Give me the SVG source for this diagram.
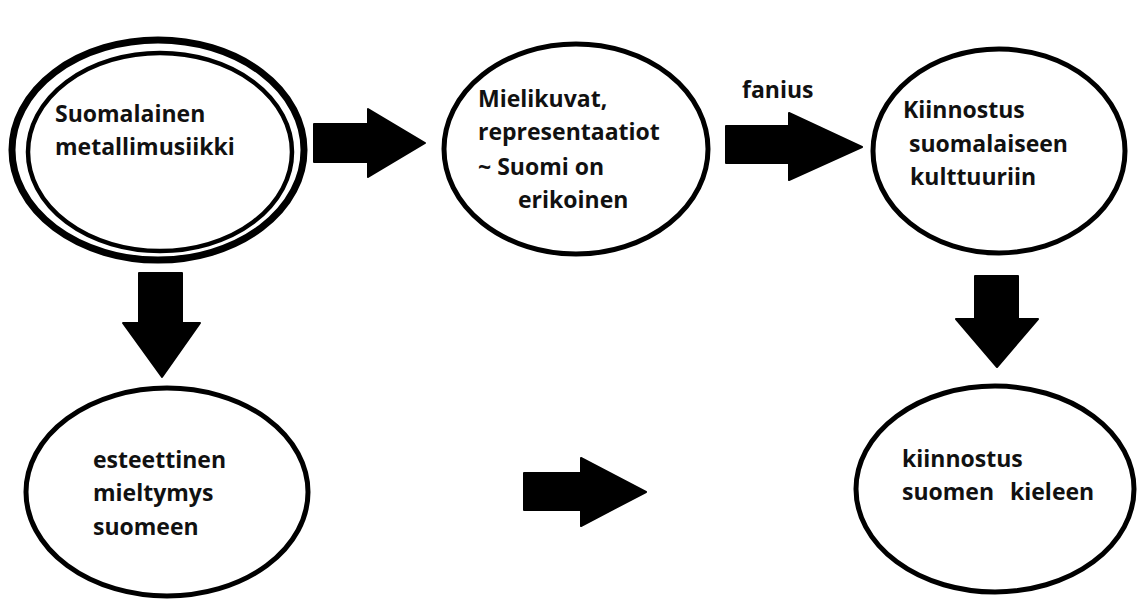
<svg xmlns="http://www.w3.org/2000/svg" width="1137" height="600" viewBox="0 0 1137 600">
<style>
.node{fill:#fff;stroke:#000;stroke-width:5}
.lbl{font-family:"Open Sans","DejaVu Sans",sans-serif;font-weight:700;font-size:23px;fill:#111}
.arrow{fill:#000;stroke:#000;stroke-width:2;stroke-linejoin:round}
</style>
<rect width="1137" height="600" fill="#fff"/>
<g id="connectors">
<path class="arrow" d="M314,124 H368 V109 L425,143 L368,177 V162 H314 Z"/>
<path class="arrow" d="M726,126 H789 V113 L862,147 L789,180 V163 H726 Z"/>
<path class="arrow" d="M524,473 H581 V458 L646,492 L581,526 V510 H524 Z"/>
<path class="arrow" d="M139,273 H182 V323 H200 L162,377 L123,323 H139 Z"/>
<path class="arrow" d="M975,276 H1018 V319 H1038 L997,367 L956,319 H975 Z"/>
<text class="lbl" x="742" y="98">fanius</text>
</g>
<g id="node1">
<ellipse cx="158" cy="150" rx="146" ry="110" fill="#fff" stroke="#000" stroke-width="7"/>
<ellipse cx="160" cy="152" rx="132" ry="99" fill="none" stroke="#000" stroke-width="4.5"/>
<text class="lbl" x="55" y="122">Suomalainen</text>
<text class="lbl" x="55" y="155">metallimusiikki</text>
</g>
<g id="node2">
<ellipse class="node" cx="576" cy="149" rx="132" ry="105"/>
<text class="lbl" x="478" y="107">Mielikuvat,</text>
<text class="lbl" x="478" y="140">representaatiot</text>
<text class="lbl" x="478" y="175">~ Suomi on</text>
<text class="lbl" x="518" y="208">erikoinen</text>
</g>
<g id="node3">
<ellipse class="node" cx="999" cy="151" rx="126" ry="102"/>
<text class="lbl" x="903" y="118">Kiinnostus</text>
<text class="lbl" x="909" y="152">suomalaiseen</text>
<text class="lbl" x="910" y="185">kulttuuriin</text>
</g>
<g id="node4">
<ellipse class="node" cx="167" cy="492" rx="141" ry="104"/>
<text class="lbl" x="93" y="468">esteettinen</text>
<text class="lbl" x="93" y="501">mieltymys</text>
<text class="lbl" x="93" y="535">suomeen</text>
</g>
<g id="node5">
<ellipse class="node" cx="995" cy="489" rx="139" ry="103"/>
<text class="lbl" x="902" y="467">kiinnostus</text>
<text class="lbl" x="902" y="500">suomen</text>
<text class="lbl" x="1010" y="500">kieleen</text>
</g>
</svg>
